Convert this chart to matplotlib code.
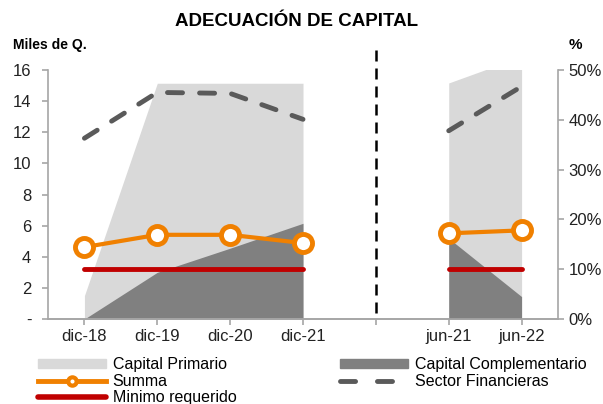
import numpy as np
import matplotlib
matplotlib.use("Agg")
import matplotlib.pyplot as plt
from matplotlib.lines import Line2D
from matplotlib.patches import Patch
from matplotlib.ticker import PercentFormatter

plt.rcParams['font.family'] = ['Liberation Sans', 'DejaVu Sans']

# categories (index 4 is the blank separator)
cats = ["dic-18", "dic-19", "dic-20", "dic-21", "", "jun-21", "jun-22"]

# left block, miles de Q.
x_left = [0, 1, 2, 3]
primario_left = [1.5, 15.15, 15.15, 15.15]
complem_left = [0.0, 3.0, 4.55, 6.15]
summa_left = [4.62, 5.41, 5.41, 4.88]
minimo_left = [3.2, 3.2, 3.2, 3.2]
sector_left = [0.363, 0.455, 0.453, 0.401]

# right block, ratios (%)
x_right = [5, 6]
primario_right = [0.474, 0.527]
complem_right = [0.162, 0.045]
summa_right = [0.172, 0.178]
minimo_right = [0.10, 0.10]
sector_right = [0.378, 0.467]

c_light = "#D9D9D9"
c_dark = "#808080"
c_orange = "#F08000"
c_red = "#C00000"
c_dash = "#5A5A5A"
c_spine = "#A6A6A6"

fig = plt.figure(figsize=(6.03, 4.04), dpi=100)
ax = fig.add_axes([0.0796, 0.2104, 0.8458, 0.6163])
ax2 = ax.twinx()

ax.fill_between(x_left, primario_left, color=c_light, lw=0, zorder=1)
ax.fill_between(x_left, complem_left, color=c_dark, lw=0, zorder=2)
ax.plot(x_left, minimo_left, color=c_red, lw=3.5, solid_capstyle='round', zorder=3)
ax.plot(x_left, summa_left, color=c_orange, lw=3, marker='o', ms=13,
        mfc='white', mec=c_orange, mew=3.5, zorder=4)

ax2.fill_between(x_right, primario_right, color=c_light, lw=0, zorder=1)
ax2.fill_between(x_right, complem_right, color=c_dark, lw=0, zorder=2)
ax2.plot(x_left, sector_left, color=c_dash, lw=3.5, dashes=(3.1, 3.5),
         dash_capstyle='round', zorder=3)
ax2.plot(x_right, sector_right, color=c_dash, lw=3.5, dashes=(3.1, 3.5),
         dash_capstyle='round', zorder=3)
ax2.plot(x_right, minimo_right, color=c_red, lw=3.5, solid_capstyle='round', zorder=4)
ax2.plot(x_right, summa_right, color=c_orange, lw=3, marker='o', ms=13,
         mfc='white', mec=c_orange, mew=3.5, zorder=5)

# separator
ax.plot([4, 4], [0.024, 1.088], color='black', lw=1.8, dashes=(4.4, 2.8),
        transform=ax.get_xaxis_transform(), clip_on=False, zorder=6)

ax.set_xlim(-0.5, 6.5)
ax.set_ylim(0, 16)
ax2.set_ylim(0, 0.5)
ax.set_xticks(range(len(cats)))
ax.set_xticklabels(cats)
ax.set_yticks(range(0, 17, 2))
ax.set_yticklabels(["-"] + [str(v) for v in range(2, 17, 2)])
ax2.set_yticks(np.arange(0, 0.51, 0.1))
ax2.yaxis.set_major_formatter(PercentFormatter(1.0, decimals=0))

for a in (ax, ax2):
    a.spines['top'].set_visible(False)
    for s in ('left', 'right', 'bottom'):
        a.spines[s].set_color(c_spine)
        a.spines[s].set_linewidth(1.2)
    a.tick_params(colors=c_spine, labelcolor='#222222', labelsize=12, length=4, width=1.2)
ax.tick_params(axis='y', pad=8)
ax2.spines['left'].set_visible(False)
ax.spines['right'].set_visible(False)

fig.text(0.4925, 0.948, "ADECUACIÓN DE CAPITAL", ha='center', va='center',
         fontsize=13.5, fontweight='bold')
fig.text(0.021, 0.889, "Miles de Q.", ha='left', va='center', fontsize=10, fontweight='bold')
fig.text(0.943, 0.889, "%", ha='left', va='center', fontsize=11, fontweight='bold')

handles = [
    Patch(color=c_light, label="Capital Primario"),
    Line2D([], [], color=c_orange, lw=3.5, marker='o', ms=6, mfc='white', mec=c_orange,
           mew=3, label="Summa"),
    Line2D([], [], color=c_red, lw=4, solid_capstyle='round', label="Minimo requerido"),
    Patch(color=c_dark, label="Capital Complementario"),
    Line2D([], [], color=c_dash, lw=3.5, dashes=(3.1, 4.5), dash_capstyle='round',
           label="Sector Financieras"),
]
fig.legend(handles=handles, loc='upper left', bbox_to_anchor=(0.0494, 0.1355),
           ncol=2, frameon=False, fontsize=11.5, handlelength=4.25, handleheight=0.55,
           handletextpad=0.44, labelspacing=0.1, columnspacing=6.5, borderpad=0)

fig.savefig("out.png", dpi=100)
